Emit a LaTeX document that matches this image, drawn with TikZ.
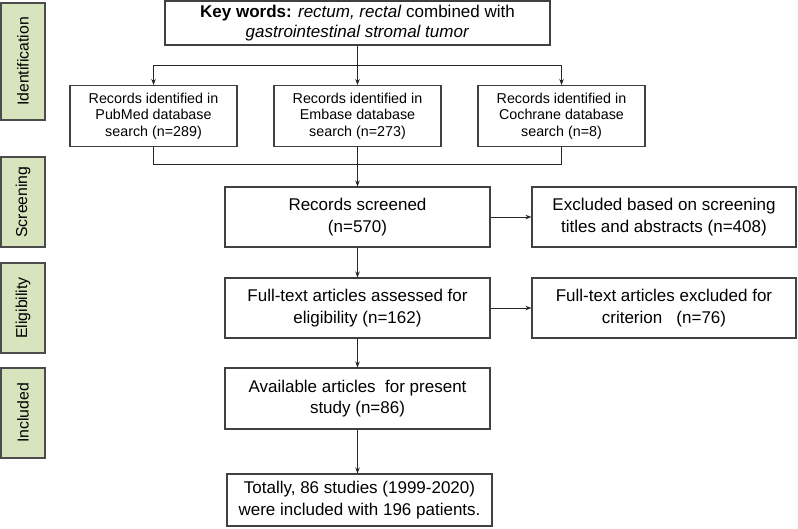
\documentclass[tikz,border=0pt]{standalone}
\usepackage{fontspec}
\setmainfont{Liberation Sans}
\usetikzlibrary{arrows.meta}
\begin{document}
\begin{tikzpicture}[x=1pt,y=1pt,
  box/.style={draw=black!75,line width=1.1pt,fill=white,align=center,inner sep=0pt,
    font=\fontsize{14.3}{16.5}\selectfont},
  bigbox/.style={box,font=\fontsize{17}{21.5}\selectfont},
  side/.style={draw=black!70,line width=1.1pt,fill=sidegreen,inner sep=0pt},
  sidetext/.style={rotate=90,font=\fontsize{15.8}{18}\selectfont},
  conn/.style={line width=0.9pt,black!85},
  arr/.style={conn,-{Stealth[length=6pt,width=4.5pt]}}]
\definecolor{sidegreen}{HTML}{D7E4BD}
\useasboundingbox (0,0) rectangle (798,-528);
\fill[white] (0,0) rectangle (798,-528);
% side labels
\node[side,minimum width=44pt,minimum height=117pt] (sid) at (23,-61.5) {};
\node[sidetext] (sidt) at (sid.center) {Identification};
\node[side,minimum width=44pt,minimum height=90pt] (sscr) at (23,-202) {};
\node[sidetext] (sscrt) at (sscr.center) {Screening};
\node[side,minimum width=44pt,minimum height=90pt] (sel) at (23,-308) {};
\node[sidetext] (selt) at (sel.center) {Eligibility};
\node[side,minimum width=44pt,minimum height=90pt] (sinc) at (23,-413) {};
\node[sidetext] (sinct) at (sinc.center) {Included};
% main boxes
\node[box,minimum width=385pt,minimum height=44pt,font=\fontsize{17}{20}\selectfont] (kw) at (357.5,-23)
  {\textbf{Key words:} \textit{rectum, rectal} combined with\\ \textit{gastrointestinal stromal tumor}};
\node[box,minimum width=167pt,minimum height=61pt] (pub) at (153.5,-116)
  {Records identified in\\PubMed database\\search (n=289)};
\node[box,minimum width=167pt,minimum height=61pt] (emb) at (357.5,-116)
  {Records identified in\\Embase database\\search (n=273)};
\node[box,minimum width=167pt,minimum height=61pt] (coc) at (561.5,-116)
  {Records identified in\\Cochrane database\\search (n=8)};
\node[bigbox,minimum width=265pt,minimum height=60pt] (scr) at (357.5,-217)
  {Records screened\\(n=570)};
\node[bigbox,minimum width=264pt,minimum height=60pt] (exc1) at (664,-217)
  {Excluded based on screening\\titles and abstracts (n=408)};
\node[bigbox,minimum width=265pt,minimum height=60pt] (ft) at (357.5,-308)
  {Full-text articles assessed for\\eligibility (n=162)};
\node[bigbox,minimum width=264pt,minimum height=60pt] (exc2) at (664,-308)
  {Full-text articles excluded for\\criterion\ \ \ (n=76)};
\node[bigbox,minimum width=265pt,minimum height=61pt] (av) at (357.5,-398.5)
  {Available articles\ \ for present\\study (n=86)};
\node[bigbox,minimum width=265pt,minimum height=52pt] (tot) at (359.5,-500)
  {Totally, 86 studies (1999-2020)\\were included with 196 patients.};
% connectors
\coordinate (top) at (357.5,-65);
\coordinate (bot) at (357.5,-164);
\draw[conn] (kw.south) -- (top);
\draw[arr] (top) -| (pub.north);
\draw[arr] (top) -| (coc.north);
\draw[arr] (top) -- (emb.north);
\draw[conn] (pub.south) |- (bot);
\draw[conn] (coc.south) |- (bot);
\draw[arr] (emb.south) -- (scr.north);
\draw[arr] (scr.east) -- (exc1.west);
\draw[arr] (scr.south) -- (ft.north);
\draw[arr] (ft.east) -- (exc2.west);
\draw[arr] (ft.south) -- (av.north);
\draw[arr] (av.south) -- (av.south |- tot.north);
\end{tikzpicture}
\end{document}
